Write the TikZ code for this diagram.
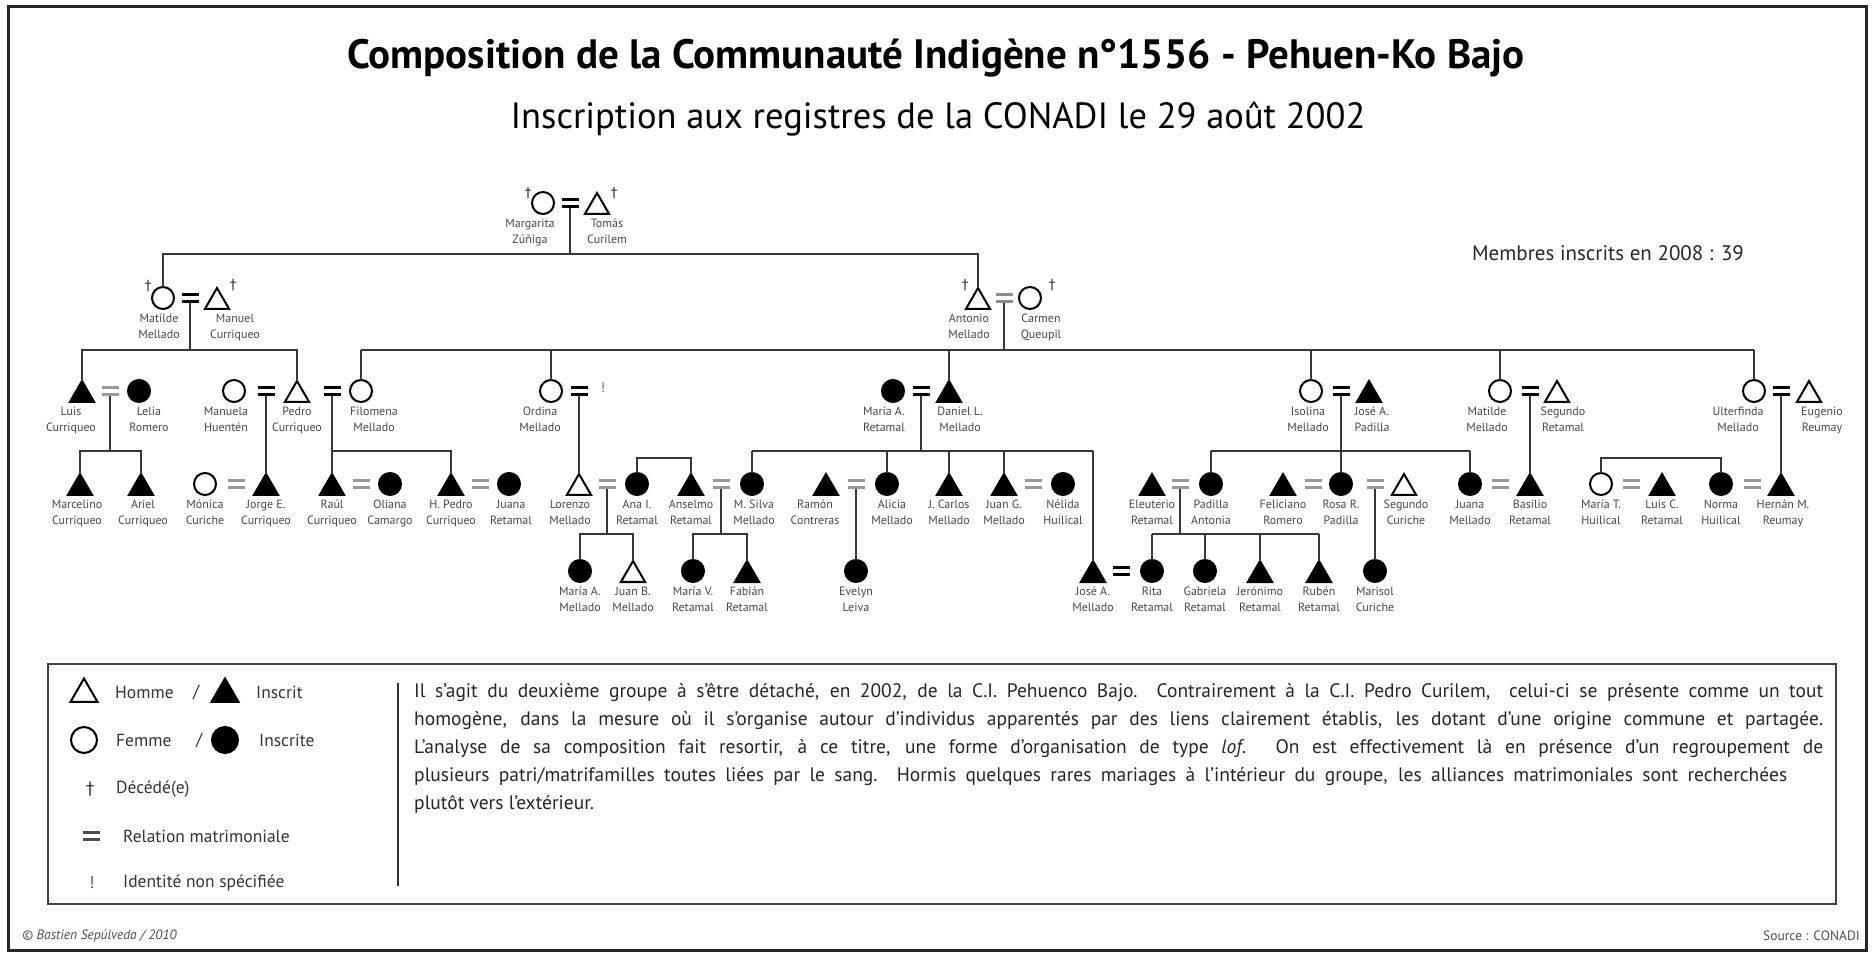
\documentclass[tikz,border=0pt]{standalone}
\usepackage{fontspec}
\setmainfont{PT Sans}
\newfontfamily\symf{DejaVu Sans}
\usetikzlibrary{shapes.geometric}
\newcommand\eqbox[1]{\textcolor{#1}{\vbox{\hrule width 17pt height 3pt depth 0pt\vskip 4.5pt\hrule width 17pt height 3pt depth 0pt}}}
\tikzset{
 sym/.style={draw=black, line width=2pt, inner sep=0pt, outer sep=0pt},
 fo/.style={sym, circle, minimum size=22pt, fill=white},
 ff/.style={sym, circle, minimum size=22pt, fill=black},
 mo/.style={sym, regular polygon, regular polygon sides=3, minimum size=28pt, fill=white},
 mf/.style={mo, fill=black},
 nm/.style={font=\fontsize{12}{15.5}\selectfont, text=black!72, align=center, inner sep=0pt, anchor=north},
 eqk/.style={inner sep=0pt, outer sep=0pt},
 ln/.style={draw=black!78, line width=2pt},
 dag/.style={font=\symf\fontsize{14}{14}\selectfont, inner sep=0pt, text=black!80},
 lg/.style={font=\fontsize{17.5}{19}\selectfont, text=black!80, anchor=west, inner sep=0pt},
}
\newcommand\ind[7][]{%
 \node[#3, anchor=south] (#2) at (#4,#5+11) {};
 \node[nm,#1] (#2n) at (#4,#5+16) {#6\\#7};}
\newcommand\mrg[4]{\node[eqk] (#1) at (#2,#3) {\eqbox{#4}};}
\begin{document}
\begin{tikzpicture}[x=1pt,y=-1pt]
\useasboundingbox (0,0) rectangle (1872,957);
\draw[line width=3pt, black!85] (8,7) rectangle (1866,950);
% titles
\node[font=\bfseries\fontsize{41}{46}\selectfont] (title) at (936,58) {Composition de la Communauté Indigène n°1556 - Pehuen-Ko Bajo};
\node[font=\fontsize{36.5}{40}\selectfont] (sub) at (938,119) {Inscription aux registres de la CONADI le 29 août 2002};
\node[font=\fontsize{21}{24}\selectfont, text=black!85] (membres) at (1608,253) {Membres inscrits en 2008 : 39};
% Gen 1
\ind[xshift=-13pt]{marg}{fo}{543}{203}{Margarita}{Zúñiga}
\mrg{e0}{570}{203}{black}
\ind[xshift=10pt]{tomas}{mo}{597}{203}{Tomás}{Curilem}
\node[dag] (d1) at (528,193) {†};
\node[dag] (d2) at (614,193) {†};
% Gen 2
\ind[xshift=-4pt]{mat}{fo}{163}{298}{Matilde}{Mellado}
\mrg{eA}{190}{298}{black}
\ind[xshift=18pt]{manuel}{mo}{217}{298}{Manuel}{Curriqueo}
\node[dag] (d3) at (148,286) {†};
\node[dag] (d4) at (233,285) {†};
\ind[xshift=-9pt]{antonio}{mo}{978}{298}{Antonio}{Mellado}
\mrg{eB}{1004}{298}{black!45}
\ind[xshift=11pt]{carmen}{fo}{1030}{298}{Carmen}{Queupil}
\node[dag] (d5) at (965,285) {†};
\node[dag] (d6) at (1052,285) {†};
% Gen 3
\ind[xshift=-11pt]{luis}{mf}{82}{391}{Luis}{Curriqueo}
\mrg{eL}{110}{391}{black!40}
\ind[xshift=10pt]{lelia}{ff}{139}{391}{Lelia}{Romero}
\ind[xshift=-8pt]{manuela}{fo}{234}{391}{Manuela}{Huentén}
\mrg{eP1}{266}{391}{black}
\ind{pedro}{mo}{297}{391}{Pedro}{Curriqueo}
\mrg{eP2}{332}{391}{black}
\ind[xshift=13pt]{filomena}{fo}{361}{391}{Filomena}{Mellado}
\ind[xshift=-11pt]{ordina}{fo}{551}{391}{Ordina}{Mellado}
\mrg{eO}{579}{391}{black}
\node[font=\fontsize{14}{14}\selectfont, text=black!60, inner sep=0pt] (unk) at (603,388) {!};
\ind[xshift=-9pt]{mariaA}{ff}{893}{391}{María A.}{Retamal}
\mrg{eD}{921}{391}{black}
\ind[xshift=11pt]{daniel}{mf}{949}{391}{Daniel L.}{Mellado}
\ind[xshift=-3pt]{isolina}{fo}{1311}{391}{Isolina}{Mellado}
\mrg{eI}{1341}{391}{black}
\ind[xshift=3pt]{joseP}{mf}{1369}{391}{José A.}{Padilla}
\ind[xshift=-13pt]{matM}{fo}{1500}{391}{Matilde}{Mellado}
\mrg{eM}{1530}{391}{black}
\ind[xshift=6pt]{segR}{mo}{1557}{391}{Segundo}{Retamal}
\ind[xshift=-16pt]{ulter}{fo}{1754}{391}{Ulterfinda}{Mellado}
\mrg{eU}{1781}{391}{black}
\ind[xshift=13pt]{eugenio}{mo}{1809}{391}{Eugenio}{Reumay}
% Gen 4
\ind[xshift=-3pt]{marcelino}{mf}{80}{484}{Marcelino}{Curriqueo}
\ind[xshift=2pt]{ariel}{mf}{141}{484}{Ariel}{Curriqueo}
\ind{monica}{fo}{205}{484}{Mónica}{Curiche}
\mrg{e4a}{236}{484}{black!40}
\ind{jorge}{mf}{266}{484}{Jorge E.}{Curriqueo}
\ind{raul}{mf}{332}{484}{Raúl}{Curriqueo}
\mrg{e4b}{361}{484}{black!40}
\ind{oliana}{ff}{390}{484}{Oliana}{Camargo}
\ind{hpedro}{mf}{451}{484}{H. Pedro}{Curriqueo}
\mrg{e4c}{480}{484}{black!40}
\ind[xshift=2pt]{juanaR}{ff}{509}{484}{Juana}{Retamal}
\ind[xshift=-9pt]{lorenzo}{mo}{579}{484}{Lorenzo}{Mellado}
\mrg{e4d}{607}{484}{black!40}
\ind{ana}{ff}{637}{484}{Ana I.}{Retamal}
\ind{anselmo}{mf}{691}{484}{Anselmo}{Retamal}
\mrg{e4e}{721}{484}{black!40}
\ind[xshift=2pt]{msilva}{ff}{752}{484}{M. Silva}{Mellado}
\ind[xshift=-11pt]{ramon}{mf}{826}{484}{Ramón}{Contreras}
\mrg{e4f}{856}{484}{black!40}
\ind[xshift=5pt]{alicia}{ff}{887}{484}{Alicia}{Mellado}
\ind{jcarlos}{mf}{949}{484}{J. Carlos}{Mellado}
\ind{juanG}{mf}{1004}{484}{Juan G.}{Mellado}
\mrg{e4g}{1033}{484}{black!40}
\ind{nelida}{ff}{1063}{484}{Nélida}{Huilical}
\ind{eleuterio}{mf}{1152}{484}{Eleuterio}{Retamal}
\mrg{e4h}{1180}{484}{black!40}
\ind{padilla}{ff}{1211}{484}{Padilla}{Antonia}
\ind{feliciano}{mf}{1283}{484}{Feliciano}{Romero}
\mrg{e4i}{1313}{484}{black!40}
\ind{rosa}{ff}{1341}{484}{Rosa R.}{Padilla}
\mrg{e4j}{1375}{484}{black!40}
\ind[xshift=2pt]{segC}{mo}{1404}{484}{Segundo}{Curiche}
\ind{juanaM}{ff}{1470}{484}{Juana}{Mellado}
\mrg{e4k}{1500}{484}{black!40}
\ind{basilio}{mf}{1530}{484}{Basilio}{Retamal}
\ind{mariaT}{fo}{1601}{484}{María T.}{Huilical}
\mrg{e4l}{1631}{484}{black!40}
\ind{luisC}{mf}{1662}{484}{Luis C.}{Retamal}
\ind{norma}{ff}{1721}{484}{Norma}{Huilical}
\mrg{e4m}{1752}{484}{black!40}
\ind[xshift=2pt]{hernan}{mf}{1781}{484}{Hernán M.}{Reumay}
% Gen 5
\ind{mariaAM}{ff}{580}{571}{María A.}{Mellado}
\ind{juanB}{mo}{633}{571}{Juan B.}{Mellado}
\ind{mariaV}{ff}{693}{571}{María V.}{Retamal}
\ind{fabian}{mf}{747}{571}{Fabián}{Retamal}
\ind{evelyn}{ff}{856}{571}{Evelyn}{Leiva}
\ind{joseM}{mf}{1093}{571}{José A.}{Mellado}
\mrg{e5}{1121}{571}{black}
\ind{rita}{ff}{1152}{571}{Rita}{Retamal}
\ind{gabriela}{ff}{1205}{571}{Gabriela}{Retamal}
\ind{jeronimo}{mf}{1260}{571}{Jerónimo}{Retamal}
\ind{ruben}{mf}{1319}{571}{Rubén}{Retamal}
\ind{marisol}{ff}{1375}{571}{Marisol}{Curiche}
% connectors
\coordinate (b1) at (0,254);
\coordinate (b2) at (0,350);
\coordinate (b3) at (0,451);
\coordinate (s1) at (0,458);
\coordinate (b4) at (0,534);
\draw[ln] (mat.north) -- (mat.north |- b1) -- (antonio.north |- b1) -- (antonio.north);
\draw[ln] (e0.south) -- (e0.south |- b1);
\draw[ln] (luis.north) -- (luis.north |- b2) -- (pedro.north |- b2) -- (pedro.north);
\draw[ln] (eA.south) -- (eA.south |- b2);
\draw[ln] (filomena.north |- b2) -- (ulter.north |- b2);
\foreach \c in {filomena,ordina,daniel,isolina,matM,ulter} \draw[ln] (\c.north) -- (\c.north |- b2);
\draw[ln] (eB.south) -- (eB.south |- b2);
\draw[ln] (marcelino.north) -- (marcelino.north |- b3) -- (ariel.north |- b3) -- (ariel.north);
\draw[ln] (eL.south) -- (eL.south |- b3);
\draw[ln] (eP1.south) -- (eP1.south |- jorge.north);
\draw[ln] (eP2.south) -- (eP2.south |- b3) -- (hpedro.north |- b3) -- (hpedro.north);
\draw[ln] (raul.north) -- (raul.north |- b3);
\draw[ln] (eO.south) -- (eO.south |- lorenzo.north);
\draw[ln] (msilva.north |- b3) -- (joseM.north |- b3);
\foreach \c in {msilva,alicia,jcarlos,juanG,joseM} \draw[ln] (\c.north) -- (\c.north |- b3);
\draw[ln] (eD.south) -- (eD.south |- b3);
\draw[ln] (padilla.north |- b3) -- (juanaM.north |- b3);
\foreach \c in {padilla,rosa,juanaM} \draw[ln] (\c.north) -- (\c.north |- b3);
\draw[ln] (eI.south) -- (eI.south |- b3);
\draw[ln] (eM.south) -- (eM.south |- basilio.north);
\draw[ln] (eU.south) -- (eU.south |- hernan.north);
\draw[ln] (ana.north) -- (ana.north |- s1) -- (anselmo.north |- s1) -- (anselmo.north);
\draw[ln] (mariaT.north) -- (mariaT.north |- s1) -- (norma.north |- s1) -- (norma.north);
\draw[ln] (mariaAM.north) -- (mariaAM.north |- b4) -- (juanB.north |- b4) -- (juanB.north);
\draw[ln] (e4d.south) -- (e4d.south |- b4);
\draw[ln] (mariaV.north) -- (mariaV.north |- b4) -- (fabian.north |- b4) -- (fabian.north);
\draw[ln] (e4e.south) -- (e4e.south |- b4);
\draw[ln] (e4f.south) -- (e4f.south |- evelyn.north);
\draw[ln] (rita.north |- b4) -- (ruben.north |- b4);
\foreach \c in {rita,gabriela,jeronimo,ruben} \draw[ln] (\c.north) -- (\c.north |- b4);
\draw[ln] (e4h.south) -- (e4h.south |- b4);
\draw[ln] (e4j.south) -- (e4j.south |- marisol.north);
% legend
\draw[draw=black!75, line width=2pt] (48,664) rectangle (1836,904);
\draw[black!80, line width=1.5pt] (398,683) -- (398,886);
\node[mo, minimum size=31pt] (lgm) at (84,694) {};
\node[lg] (lgt1) at (115,692) {Homme};
\node[lg] (lgs1) at (193,692) {/};
\node[mf, minimum size=31pt] (lgmf) at (225,694) {};
\node[lg] (lgt2) at (256,692) {Inscrit};
\node[fo, minimum size=26pt] (lgf) at (84,740) {};
\node[lg] (lgt3) at (116,740) {Femme};
\node[lg] (lgs2) at (196,740) {/};
\node[ff, minimum size=26pt] (lgff) at (225,740) {};
\node[lg] (lgt4) at (259,740) {Inscrite};
\node[dag, font=\symf\fontsize{17}{17}\selectfont] (lgd) at (90,789) {†};
\node[lg] (lgt5) at (116,789) {Décédé(e)};
\node[eqk] (lge) at (91,836) {\eqbox{black!70}};
\node[lg] (lgt6) at (123,836) {Relation matrimoniale};
\node[font=\fontsize{17}{17}\selectfont, text=black!70, inner sep=0pt] (lgu) at (92,883) {!};
\node[lg] (lgt7) at (123,883) {Identité non spécifiée};
\node[anchor=north west, inner sep=0pt, text width=1409pt, align=justify, font=\fontsize{19.5}{28}\selectfont, text=black!85] (para) at (414,683) {\tolerance=10000 Il s'agit du deuxième groupe à s'être détaché, en 2002, de la C.I. Pehuenco Bajo.\ \ Contrairement à la C.I. Pedro Curilem,\ \ celui-ci se présente comme un tout\linebreak homogène, dans la mesure où il s'organise autour d'individus apparentés par des liens clairement établis, les dotant d'une origine commune et partagée.\linebreak L'analyse de sa composition fait resortir, à ce titre, une forme d'organisation de type \textit{lof}. On est effectivement là en présence d'un regroupement de\linebreak \makebox[1373pt][s]{plusieurs patri/matrifamilles toutes liées par le sang. Hormis quelques rares mariages à l'intérieur du groupe, les alliances matrimoniales sont recherchées}\\ plutôt vers l'extérieur.};
% footer
\node[anchor=west, font=\itshape\fontsize{13.5}{15}\selectfont, text=black!70, inner sep=0pt] (copy) at (22,936) {© Bastien Sepúlveda / 2010};
\node[anchor=east, font=\fontsize{13.5}{15}\selectfont, text=black!70, inner sep=0pt] (src) at (1860,936) {Source : CONADI};
\end{tikzpicture}
\end{document}
